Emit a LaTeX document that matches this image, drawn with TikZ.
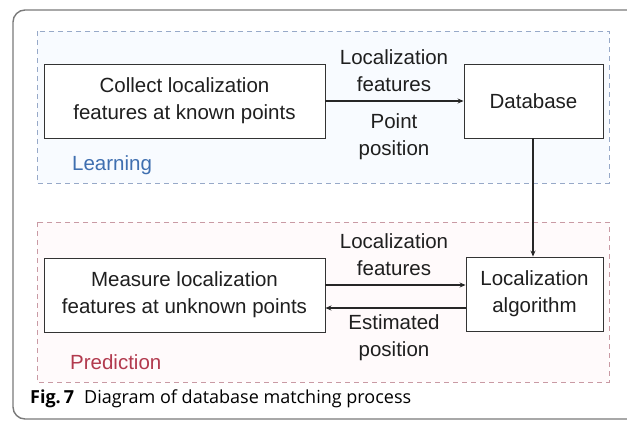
\documentclass[tikz,border=0pt]{standalone}
\usepackage{fontspec}
\setmainfont{Liberation Sans}
\newfontfamily\capfont{Open Sans}
\usetikzlibrary{arrows.meta}
\definecolor{framegray}{HTML}{7A7A7A}
\definecolor{learnblue}{HTML}{3F6FB0}
\definecolor{learndash}{HTML}{97A9C8}
\definecolor{learnfill}{HTML}{F8FBFF}
\definecolor{predred}{HTML}{B23A4E}
\definecolor{preddash}{HTML}{C99AA4}
\definecolor{predfill}{HTML}{FFFAFB}
\tikzset{
  every node/.style={font=\fontsize{20.5}{27}\selectfont, text=black!88},
  stagebox/.style={draw=black!80, line width=0.9pt, fill=white, align=center, inner sep=0pt},
  flow/.style={draw=black!85, line width=1.1pt, -{Stealth[length=6pt,width=5pt]}},
  arrowlabel/.style={align=center, inner sep=0pt},
  region/.style={dashed, dash pattern=on 5pt off 4pt, line width=0.9pt},
}
\begin{document}
\begin{tikzpicture}[x=1pt,y=-1pt]
\useasboundingbox (0,0) rectangle (627,421);
\clip (0,0) rectangle (627,421);
\fill[white] (0,0) rectangle (627,421);
% outer figure frame
\draw[framegray, line width=1.4pt, rounded corners=12pt] (13,10) rectangle (660,419);

% learning stage
\draw[region, draw=learndash, fill=learnfill] (37,31) rectangle (609,183);
\node[stagebox, minimum width=281pt, minimum height=74pt] (collect) at (184.5,101)
  {Collect localization\\features at known points};
\node[stagebox, minimum width=139pt, minimum height=74pt] (db) at (533.5,101) {Database};
\draw[flow] (collect.east) -- (db.west);
\node[arrowlabel, anchor=south] (lf1) at (394,92) {Localization\\features};
\node[arrowlabel, anchor=north] (pp) at (394,113) {Point\\position};
\node[anchor=base west, inner sep=0pt, text=learnblue] (learn) at (72,170) {Learning};

% prediction stage
\draw[region, draw=preddash, fill=predfill] (37,222) rectangle (609,382);
\node[stagebox, minimum width=281pt, minimum height=74pt] (measure) at (184.5,295)
  {Measure localization\\features at unknown points};
\node[stagebox, minimum width=137pt, minimum height=74pt] (algo) at (534.5,294)
  {Localization\\algorithm};
\coordinate (fwdA) at (measure.east |- 0,285);
\coordinate (fwdB) at (algo.west |- 0,285);
\coordinate (backA) at (algo.west |- 0,308);
\coordinate (backB) at (measure.east |- 0,308);
\draw[flow] (fwdA) -- (fwdB);
\draw[flow] (backA) -- (backB);
\node[arrowlabel, anchor=south] (lf2) at (394,276) {Localization\\features};
\node[arrowlabel, anchor=north] (ep) at (394,314) {Estimated\\position};
\node[anchor=base west, inner sep=0pt, text=predred] (pred) at (70,369) {Prediction};

% database feeds the algorithm
\draw[flow] (db.south -| 533,0) -- (algo.north -| 533,0);

% caption
\node[anchor=base west, inner sep=0pt, font=\capfont\fontsize{18}{21}\selectfont, text=black] (cap) at (30,403)
  {\textbf{Fig.\,7}\hspace{10pt}Diagram of database matching process};
\end{tikzpicture}
\end{document}
